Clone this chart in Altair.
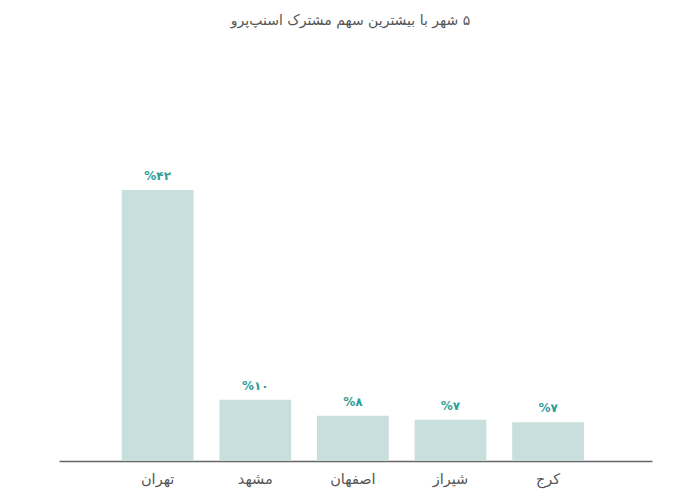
import altair as alt
import pandas as pd

cities = ["تهران", "مشهد", "اصفهان", "شیراز", "کرج"]
bar_heights = [42, 9.5, 7.0, 6.4, 6.0]
labels = ["%۴۲", "%۱۰", "%۸", "%۷", "%۷"]
title_text = "\u200f۵ شهر با بیشترین سهم مشترک اسنپ‌پرو"

df = pd.DataFrame({"city": cities, "value": bar_heights, "label": labels})

FONT = "DejaVu Sans"

x_enc = alt.X(
    "city:N",
    sort=None,
    scale=alt.Scale(paddingInner=0.265, paddingOuter=0.67, align=0.48),
    axis=alt.Axis(
        title=None,
        labelAngle=0,
        ticks=False,
        domainColor="#666666",
        domainWidth=1.5,
        labelColor="#555555",
        labelFontSize=14.5,
        labelFont=FONT,
        labelPadding=11,
        grid=False,
    ),
)
y_enc = alt.Y(
    "value:Q",
    scale=alt.Scale(domain=[0, 42], nice=False),
    axis=None,
)

bars = alt.Chart(df).mark_bar(color="#c9dfdd").encode(x=x_enc, y=y_enc)
text = alt.Chart(df).mark_text(
    color="#2e9e98",
    fontSize=12,
    fontWeight="bold",
    font=FONT,
    baseline="bottom",
    dy=-7,
).encode(x=alt.X("city:N", sort=None), y="value:Q", text="label:N")

chart = (
    alt.layer(bars, text)
    .properties(
        width=593,
        height=271,
        background="white",
        title=alt.TitleParams(
            text=title_text,
            font=FONT,
            fontSize=14,
            fontWeight="normal",
            color="#555555",
            anchor="middle",
            offset=142,
            dx=-5,
        ),
        autosize=alt.AutoSizeParams(type="none"),
        padding={"left": 51, "top": 182, "right": 40, "bottom": 30},
    )
    .configure_view(strokeWidth=0, stroke="transparent")
)

chart.save("out.html", embed_options={"renderer": "svg", "actions": False})
